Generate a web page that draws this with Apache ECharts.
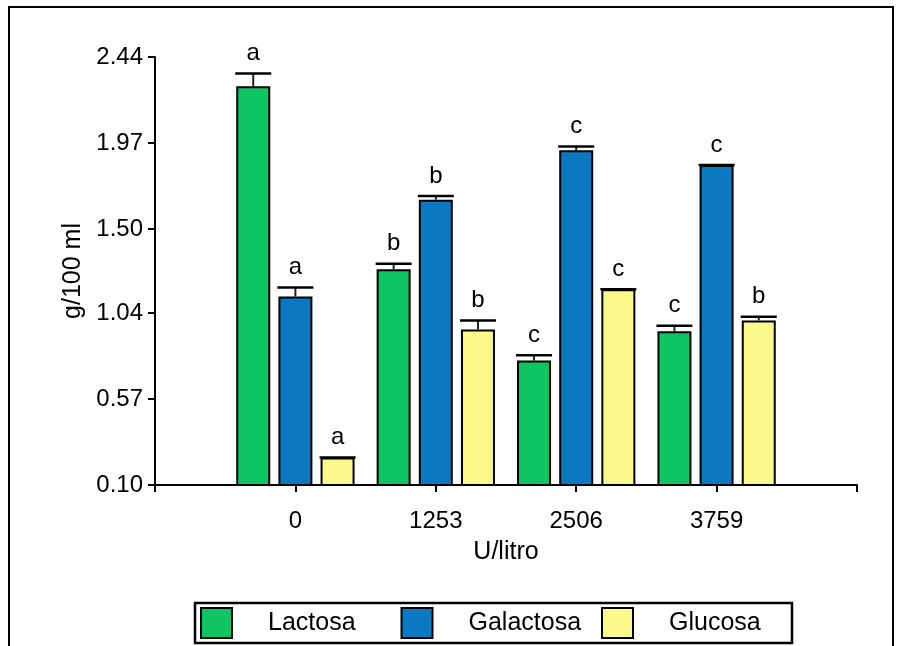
<!DOCTYPE html>
<html>
<head>
<meta charset="utf-8">
<script src="https://cdn.jsdelivr.net/npm/echarts@6/dist/echarts.min.js"></script>
<style>
  html, body { margin: 0; padding: 0; background: #fff; }
  #chart { width: 900px; height: 646px; }
</style>
</head>
<body>
<div id="chart"></div>
<script>
// Enzyme dose (U/litro) and sugar concentration (g/100 ml)
const categories = ['0', '1253', '2506', '3759'];
const seriesNames = ['Lactosa', 'Galactosa', 'Glucosa'];

const lactosa = [2.28, 1.28, 0.78, 0.94];
const galactosa = [1.13, 1.66, 1.93, 1.85];
const glucosa = [0.25, 0.95, 1.17, 1.00];

// Upper error bars
const lactosaErr = [0.07, 0.03, 0.03, 0.03];
const galactosaErr = [0.05, 0.02, 0.02, 0.00];
const glucosaErr = [0.00, 0.05, 0.00, 0.02];

// Significance letters
const lactosaLetters = ['a', 'b', 'c', 'c'];
const galactosaLetters = ['a', 'b', 'c', 'c'];
const glucosaLetters = ['a', 'b', 'c', 'b'];

const yTickLabels = ['0.10', '0.57', '1.04', '1.50', '1.97', '2.44'];

const colors = ['#0FC562', '#0B78C2', '#FAF98A'];
const FONT = 'Arial, "Liberation Sans", Helvetica, sans-serif';

const values = [lactosa, galactosa, glucosa];
const errors = [lactosaErr, galactosaErr, glucosaErr];
const letters = [lactosaLetters, galactosaLetters, glucosaLetters];

// Axis has an empty slot at each end so the groups sit on the inner ticks
const axisCats = [''].concat(categories, ['']);

const BAR_W = 34;
const GAP = 0.24;
const PITCH = BAR_W * (1 + GAP);

// Legend: one evenly spaced entry per series inside a shared frame
const LEGEND_BOX = { x: 195, y: 603, w: 597, h: 40 };
const LEGEND_STEP = 200.5;
const legends = seriesNames.map((name, k) => ({
  data: [name],
  left: LEGEND_BOX.x + 5 + k * LEGEND_STEP,
  top: LEGEND_BOX.y + 4,
  padding: 0,
  icon: 'rect',
  itemWidth: 31,
  itemHeight: 30,
  itemStyle: { borderColor: '#000', borderWidth: 2 },
  formatter: '{n|{name}}',
  textStyle: {
    fontSize: 25,
    color: '#000',
    fontFamily: FONT,
    rich: { n: { fontSize: 25, color: '#000', fontFamily: FONT, padding: [0, 0, 0, 31] } }
  }
}));

const barSeries = seriesNames.map((name, k) => ({
  name: name,
  type: 'bar',
  barWidth: BAR_W,
  barGap: (GAP * 100) + '%',
  itemStyle: { color: colors[k], borderColor: '#000', borderWidth: 2 },
  data: ['-'].concat(values[k], ['-'])
}));

const errData = [];
values.forEach((arr, k) => {
  arr.forEach((v, i) => {
    errData.push([i + 1, v, errors[k][i], k, i]);
  });
});

const errSeries = {
  type: 'custom',
  coordinateSystem: 'cartesian2d',
  encode: { x: 0, y: 1 },
  z: 5,
  silent: true,
  data: errData,
  renderItem: function (params, api) {
    const c = api.value(0);
    const v = api.value(1);
    const e = api.value(2);
    const k = api.value(3);
    const i = api.value(4);
    const top = api.coord([c, v + e]);
    const base = api.coord([c, v]);
    const x = top[0] + (k - 1) * PITCH;
    const half = BAR_W / 2 + 1;
    const children = [];
    if (e > 0) {
      children.push({
        type: 'line',
        shape: { x1: x, y1: base[1], x2: x, y2: top[1] },
        style: { stroke: '#222', lineWidth: 2 }
      });
    }
    children.push({
      type: 'line',
      shape: { x1: x - half, y1: top[1], x2: x + half, y2: top[1] },
      style: { stroke: '#000', lineWidth: 2.5 }
    });
    children.push({
      type: 'text',
      style: {
        text: letters[k][i],
        x: x,
        y: top[1] - 8,
        align: 'center',
        verticalAlign: 'bottom',
        fill: '#000',
        font: '24px ' + FONT
      }
    });
    return { type: 'group', children: children };
  }
};

const chart = echarts.init(document.getElementById('chart'), null, { renderer: 'canvas' });
chart.setOption({
  animation: false,
  backgroundColor: '#fff',
  textStyle: { fontFamily: FONT },
  grid: { left: 155, right: 43, top: 57, bottom: 161, containLabel: false },
  graphic: [{
    type: 'rect',
    shape: { x: 9, y: 7, width: 884, height: 700 },
    style: { fill: 'none', stroke: '#000', lineWidth: 2 },
    z: 0
  }, {
    type: 'rect',
    shape: { x: LEGEND_BOX.x, y: LEGEND_BOX.y, width: LEGEND_BOX.w, height: LEGEND_BOX.h },
    style: { fill: 'none', stroke: '#000', lineWidth: 2.5 },
    z: 0
  }],
  legend: legends,
  xAxis: {
    type: 'category',
    data: axisCats,
    boundaryGap: false,
    name: 'U/litro',
    nameLocation: 'middle',
    nameGap: 55,
    nameTextStyle: { fontSize: 25, color: '#000', fontFamily: FONT },
    axisLine: { lineStyle: { color: '#000', width: 2 } },
    axisTick: { show: true, interval: 0, length: 7, lineStyle: { color: '#000', width: 2 } },
    axisLabel: { interval: 0, fontSize: 24, color: '#000', margin: 24, fontFamily: FONT },
    splitLine: { show: false }
  },
  yAxis: {
    type: 'value',
    min: 0.1,
    max: 2.44,
    name: 'g/100 ml',
    nameLocation: 'middle',
    nameGap: 67,
    nameTextStyle: { fontSize: 25, color: '#000', fontFamily: FONT },
    axisLine: { show: true, lineStyle: { color: '#000', width: 2 } },
    axisTick: {
      show: true, length: 7,
      customValues: yTickLabels.map(Number),
      lineStyle: { color: '#000', width: 2 }
    },
    axisLabel: {
      customValues: yTickLabels.map(Number),
      formatter: function (v) { return Number(v).toFixed(2); },
      fontSize: 24, color: '#000', margin: 12, fontFamily: FONT
    },
    splitLine: { show: false }
  },
  series: barSeries.concat([errSeries])
});
</script>
</body>
</html>
